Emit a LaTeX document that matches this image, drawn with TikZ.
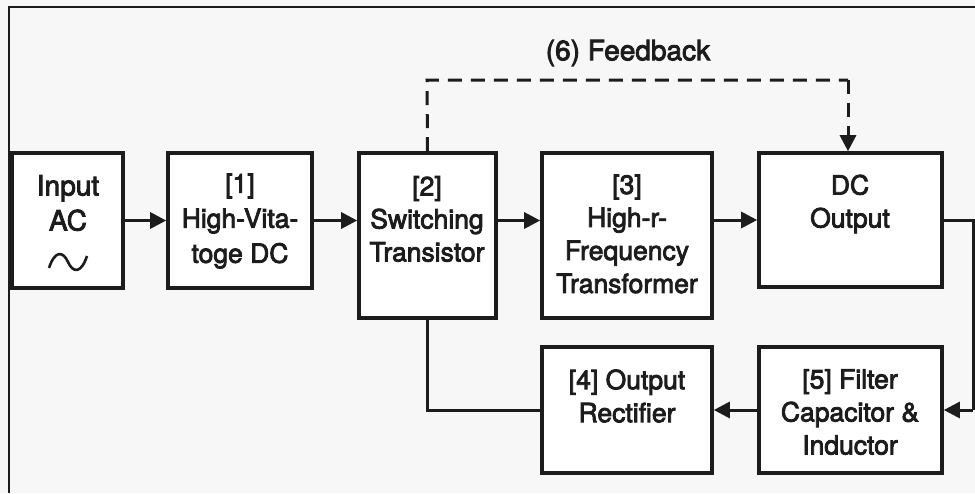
\documentclass[tikz,border=0pt]{standalone}
\usepackage{fontspec}
\setmainfont{TeX Gyre Heros}[FakeBold=3]
\usetikzlibrary{arrows.meta,calc}
\definecolor{bg}{RGB}{247,247,247}
\definecolor{ink}{RGB}{28,28,28}
\tikzset{
  blk/.style={draw=ink, line width=3.6pt, fill=white, inner sep=0pt},
  txt/.style={align=center, text=ink, font=\fontsize{26.5}{33}\selectfont, inner sep=0pt},
  conn/.style={draw=ink, line width=3pt},
  arr/.style={conn, -{Triangle[length=16pt,width=16pt]}},
  fb/.style={conn, dash pattern=on 14pt off 9pt},
}
\begin{document}
\begin{tikzpicture}[x=1pt,y=-1pt]
\fill[bg] (0,0) rectangle (975,493);
\useasboundingbox (0,0) rectangle (975,493);
\draw[ink, line width=2.8pt] (9,493) -- (9,7) -- (975,7);

% boxes
\node[blk, minimum width=111pt, minimum height=135pt] (inac) at (67.5,220.5) {};
\node[blk, minimum width=144pt, minimum height=135pt] (b1) at (240,220.5) {};
\node[blk, minimum width=137pt, minimum height=165pt] (b2) at (427.5,235.5) {};
\node[blk, minimum width=170pt, minimum height=165pt] (b3) at (627,235.5) {};
\node[blk, minimum width=183pt, minimum height=134pt] (dc) at (850.5,220) {};
\node[blk, minimum width=170pt, minimum height=126pt] (b4) at (627,410) {};
\node[blk, minimum width=183pt, minimum height=126pt] (b5) at (850.5,410) {};

% texts
\node[txt, font=\fontsize{28}{35}\selectfont] (tinac) at (68,203) {Input\\AC};
\draw[ink, line width=2.6pt] (49,268) .. controls (55,250) and (63,251) .. (68,262) .. controls (73,273) and (81,274) .. (87,256);
\node[txt, font=\fontsize{26.5}{35}\selectfont] (t1) at (240,221) {[1]\\High-Vita-\\toge DC};
\node[txt] (t2) at (427,219) {[2]\\Switching\\Transistor};
\node[txt] (t3) at (627,234) {[3]\\High-r-\\Frequency\\Transformer};
\node[txt] (tdc) at (850,204) {DC\\Output};
\node[txt] (t4) at (627,396) {[4] Output\\Rectifier};
\node[txt] (t5) at (850,412) {[5] Filter\\Capacitor \&\\Inductor};
\node[txt, font=\fontsize{28}{33}\selectfont] (tfb) at (628,53) {(6) Feedback};

% connectors
\draw[arr] (inac.east) -- (b1.west);
\draw[arr] (b1.east) -- (b2.west |- b1.east);
\draw[arr] (b2.east |- b1.east) -- (b3.west |- b1.east);
\draw[arr] (b3.east |- dc.west) -- (dc.west);

\coordinate (fbl) at (427,80);
\coordinate (fbr) at (848,80);
\draw[fb] (b2.north) -- (fbl) -- (fbr);
\draw[fb, -{Triangle[length=16pt,width=16pt]}] (fbr) -- (fbr |- dc.north);

\coordinate (rc1) at (973,220);
\coordinate (rc2) at (973,410);
\draw[conn] (dc.east) -- (rc1) -- (rc2);
\draw[arr] (rc2) -- (b5.east);
\draw[arr] (b5.west) -- (b4.east);
\draw[conn] (b2.south) |- (b4.west);
\end{tikzpicture}
\end{document}
